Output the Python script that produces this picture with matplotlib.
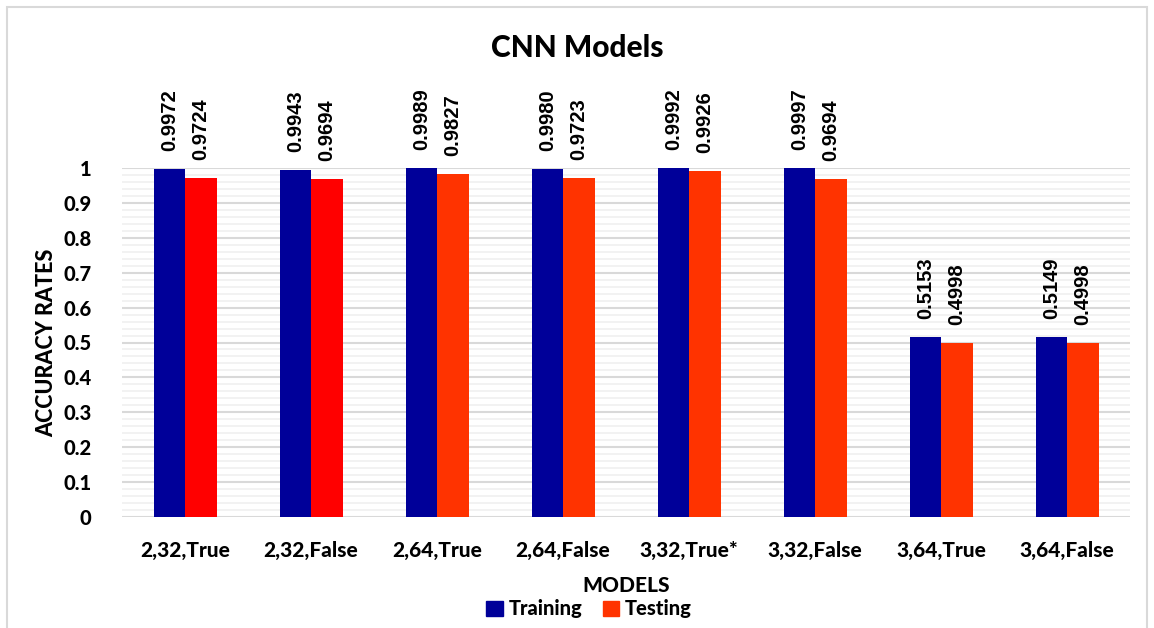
import matplotlib
matplotlib.use("Agg")
import matplotlib.pyplot as plt
import numpy as np
from matplotlib.patches import Rectangle, Patch

categories = ["2,32,True", "2,32,False", "2,64,True", "2,64,False",
              "3,32,True*", "3,32,False", "3,64,True", "3,64,False"]
training = [0.9972, 0.9943, 0.9989, 0.9980, 0.9992, 0.9997, 0.5153, 0.5149]
testing = [0.9724, 0.9694, 0.9827, 0.9723, 0.9926, 0.9694, 0.4998, 0.4998]
yticks = [0, 0.1, 0.2, 0.3, 0.4, 0.5, 0.6, 0.7, 0.8, 0.9, 1]
ytick_labels = ["0", "0.1", "0.2", "0.3", "0.4", "0.5", "0.6", "0.7", "0.8", "0.9", "1"]

blue = "#000099"
orange = "#FF3300"
red = "#FF0000"
test_colors = [red, red] + [orange] * 6

FONT = ["Lato", "DejaVu Sans"]
VFONT = ["Liberation Sans", "DejaVu Sans"]
W = "black"

fig = plt.figure(figsize=(11.54, 6.28), dpi=100)
fig.patches.append(Rectangle((7 / 1154, -0.01), (1147 - 7) / 1154, 1 - 7 / 628 + 0.01,
                             transform=fig.transFigure, fill=False,
                             edgecolor="#d9d9d9", linewidth=1.5))
ax = fig.add_axes([122 / 1154, 1 - 517 / 628, (1130 - 122) / 1154, (517 - 168) / 628])

x = np.arange(len(categories))
w = 0.25
b1 = ax.bar(x - w / 2, training, width=w, color=blue, zorder=3)
b2 = ax.bar(x + w / 2, testing, width=w, color=test_colors, zorder=3)

for bars, vals in ((b1, training), (b2, testing)):
    for rect, v in zip(bars, vals):
        ax.annotate(f"{v:.4f}", (rect.get_x() + rect.get_width() / 2, v),
                    xytext=(0, 13), textcoords="offset points",
                    rotation=90, ha="center", va="bottom",
                    fontsize=14.5, fontweight="bold", family=VFONT,
                    annotation_clip=False)

ax.set_xlim(-0.5, len(categories) - 0.5)
ax.set_ylim(0, 1)
ax.set_yticks(yticks)
ax.set_yticklabels(ytick_labels)
ax.set_yticks(np.arange(0, 1.0001, 0.02), minor=True)
ax.set_xticks(x)
ax.set_xticklabels(categories)
ax.grid(axis="y", which="major", color="#d9d9d9", linewidth=1.5, zorder=0)
ax.grid(axis="y", which="minor", color="#f0f0f0", linewidth=1.2, zorder=0)
ax.tick_params(axis="both", which="both", length=0)
ax.tick_params(axis="y", pad=22)
ax.tick_params(axis="x", pad=17)
for lab in ax.get_xticklabels() + ax.get_yticklabels():
    lab.set_fontfamily(FONT)
    lab.set_fontweight(W)
    lab.set_fontsize(15)
for lab in ax.get_yticklabels():
    lab.set_fontsize(14.5)

ax.set_ylabel("ACCURACY RATES", fontsize=15.5, fontweight=W, family=FONT, labelpad=4)
ax.set_xlabel("MODELS", fontsize=15, fontweight=W, family=FONT, labelpad=12)
for s in ax.spines.values():
    s.set_visible(False)

fig.text(577 / 1154, 1 - 48 / 628, "CNN Models", ha="center", va="center",
         fontsize=21.5, fontweight=W, family=FONT)

handles = [Patch(color=blue, label="Training"), Patch(color=orange, label="Testing")]
fig.legend(handles=handles, loc="center", bbox_to_anchor=(589 / 1154, 1 - 609 / 628),
           ncol=2, frameon=False, prop={"family": FONT, "weight": W, "size": 14.5},
           handlelength=0.8, handleheight=0.8, handletextpad=0.3, columnspacing=1.0)

fig.savefig("out.png", dpi=100, facecolor="white")
